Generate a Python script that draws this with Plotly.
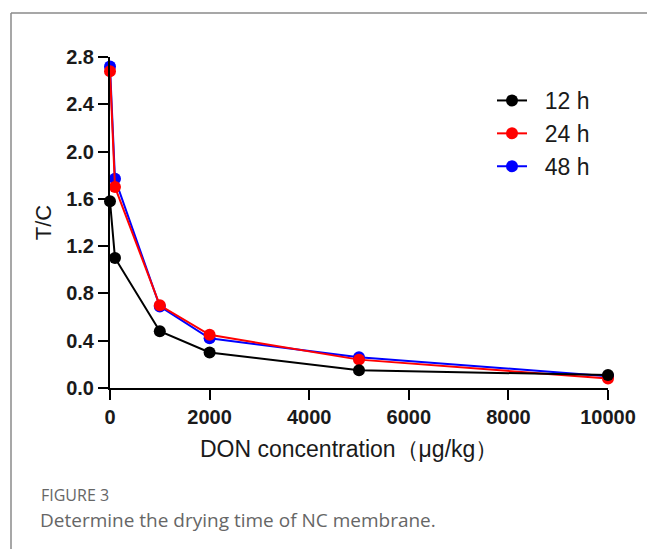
import plotly.graph_objects as go

conc = [0, 100, 1000, 2000, 5000, 10000]
t12 = [1.58, 1.10, 0.48, 0.30, 0.15, 0.11]
t24 = [2.68, 1.70, 0.70, 0.45, 0.24, 0.08]
t48 = [2.72, 1.77, 0.69, 0.42, 0.26, 0.10]
series = [("12 h", t12, "black"), ("24 h", t24, "red"), ("48 h", t48, "blue")]
draw_order = [2, 1, 0]
x_ticks = [0, 2000, 4000, 6000, 8000, 10000]
y_ticks = [0.0, 0.4, 0.8, 1.2, 1.6, 2.0, 2.4, 2.8]
x_title = "DON concentration（μg/kg）"
y_title = "T/C"

# page is offset by the default 8px body margin
OFF = 8
PW, PH = 655, 549
W, H = PW - OFF, PH - OFF
# plot area in page pixels
PL, PR, PT, PB = 110, 608, 57, 388
L, R, T, B = PL - OFF, W - (PR - OFF), PT - OFF, H - (PB - OFF)
pw, ph = PR - PL, PB - PT


def px(p):
    return (p - PL) / pw


def py(q):
    return (PB - q) / ph


fig = go.Figure()
for i in draw_order:
    name, ys, col = series[i]
    fig.add_trace(go.Scatter(
        x=conc, y=ys, name="\u00a0\u00a0" + name, mode="lines+markers",
        line=dict(color=col, width=2),
        marker=dict(color=col, size=12),
        cliponaxis=False, legendrank=i + 1,
    ))

FONT = "Liberation Sans, Arial"
tickfont = dict(family=FONT, size=20, color="#1a1a1a", weight="bold")
fig.update_layout(
    width=W, height=H,
    margin=dict(l=L, r=R, t=T, b=B),
    paper_bgcolor="white", plot_bgcolor="white",
    showlegend=True,
    legend=dict(x=px(492), y=py(79), xanchor="left", yanchor="top",
                font=dict(family=FONT, size=23, color="#1a1a1a"),
                bgcolor="rgba(0,0,0,0)", tracegroupgap=0, itemwidth=30),
    xaxis=dict(range=[0, 10000], tickvals=x_ticks, ticktext=[str(v) for v in x_ticks],
               showgrid=False, zeroline=False, showline=True, linecolor="black", linewidth=2,
               ticks="outside", ticklen=10, tickwidth=2, tickcolor="black", tickfont=tickfont),
    yaxis=dict(range=[0, 2.8], tickvals=y_ticks, ticktext=[f"{v:.1f}" for v in y_ticks],
               showgrid=False, zeroline=False, showline=True, linecolor="black", linewidth=2,
               ticks="outside", ticklen=10, tickwidth=2, tickcolor="black", tickfont=tickfont,
               title=dict(text=y_title,
                          font=dict(family=FONT, size=22, color="#1a1a1a"),
                          standoff=8)),
)

fig.add_annotation(xref="paper", yref="paper", x=px(349), y=py(449), xanchor="center", yanchor="middle",
                   text=x_title, showarrow=False,
                   font=dict(family=FONT, size=23, color="#1a1a1a"))

fig.add_shape(type="line", xref="paper", yref="paper", x0=px(11), x1=px(PW + 20), y0=py(13), y1=py(13),
              line=dict(color="#8a8a8a", width=1.5))
fig.add_shape(type="line", xref="paper", yref="paper", x0=px(11), x1=px(11), y0=py(13), y1=py(PH + 20),
              line=dict(color="#8a8a8a", width=1.5))

fig.add_annotation(xref="paper", yref="paper", x=px(39), y=py(495), xanchor="left", yanchor="middle",
                   text="FIGURE 3", showarrow=False,
                   font=dict(family="Open Sans", size=16, color="#666666"))
fig.add_annotation(xref="paper", yref="paper", x=px(38), y=py(520), xanchor="left", yanchor="middle",
                   text="Determine the drying time of NC membrane.", showarrow=False,
                   font=dict(family="Open Sans", size=19, color="#666666"))

fig.write_html("out.html")
